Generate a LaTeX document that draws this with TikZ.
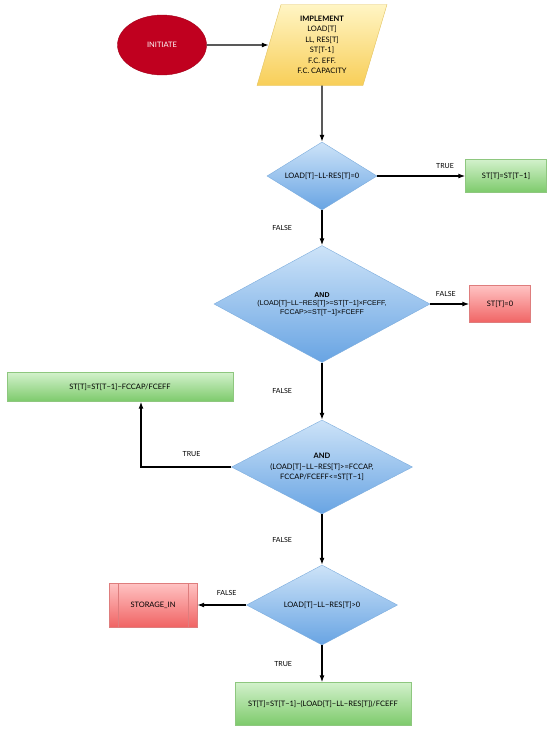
\documentclass[tikz,border=0pt]{standalone}
\usepackage{fontspec}
\setmainfont{Lato}
\newfontfamily\arialfont{Liberation Sans}
\usetikzlibrary{arrows.meta,positioning,shapes.geometric}
\definecolor{ink}{HTML}{000000}
\definecolor{startred}{HTML}{C0001F}
\definecolor{inputtop}{HTML}{FFF5C4}
\definecolor{inputbot}{HTML}{F8CE58}
\definecolor{inputline}{HTML}{E2C25E}
\definecolor{dectop}{HTML}{CDE3F8}
\definecolor{decbot}{HTML}{68A4E3}
\definecolor{decline}{HTML}{7BACDD}
\definecolor{oktop}{HTML}{D2F1CB}
\definecolor{okbot}{HTML}{7DCA6B}
\definecolor{okline}{HTML}{8EC77F}
\definecolor{badtop}{HTML}{FFC3C3}
\definecolor{badbot}{HTML}{F06464}
\definecolor{badline}{HTML}{DE7D7D}
\tikzset{
  txt/.style={font=\fontsize{7.5}{10.5}\selectfont},
  startnode/.style={ellipse, draw=startred!85!black, fill=startred, text=white,
    minimum width=89pt, minimum height=60pt, inner sep=0pt, txt},
  inputnode/.style={trapezium, trapezium left angle=76, trapezium right angle=104,
    trapezium stretches=true, draw=inputline, top color=inputtop, bottom color=inputbot,
    minimum width=130pt, minimum height=81pt, inner sep=0pt, align=center, txt},
  decision/.style={diamond, draw=decline, top color=dectop, bottom color=decbot,
    inner sep=0pt, align=center, txt},
  okbox/.style={rectangle, draw=okline, top color=oktop, bottom color=okbot,
    inner sep=0pt, align=center, txt},
  badbox/.style={rectangle, draw=badline, top color=badtop, bottom color=badbot,
    inner sep=0pt, align=center, txt},
  subbox/.style={badbox, path picture={
    \draw[badline] ([xshift=9pt]path picture bounding box.north west) -- ([xshift=9pt]path picture bounding box.south west);
    \draw[badline] ([xshift=-9pt]path picture bounding box.north east) -- ([xshift=-9pt]path picture bounding box.south east);}},
  flow/.style={-{Latex[length=7pt,width=5pt]}, draw=ink, line width=1.3pt},
  note/.style={font=\fontsize{7}{8}\selectfont, text=ink},
}
\begin{document}
\begin{tikzpicture}[x=1pt,y=-1pt]
\useasboundingbox (0,0) rectangle (550,732);

% start and input
\node[startnode] (init) at (162,45) {INITIATE};
\node[inputnode] (impl) at (322,45) {\textbf{IMPLEMENT}\\LOAD[T]\\LL, RES[T]\\ST[T-1]\\F.C. EFF.\\F.C. CAPACITY};

% decisions
\node[decision, shape aspect=1.62, minimum width=110pt, minimum height=68pt] (d1) at (322,176) {LOAD[T]−LL-RES[T]=0};
\node[decision, shape aspect=1.85, minimum width=216pt, minimum height=117pt, font=\arialfont\fontsize{7}{8.5}\selectfont] (d2) at (322,304) {\textbf{AND}\\(LOAD[T]−LL−RES[T]>=ST[T−1]×FCEFF,\\FCCAP>=ST[T−1]×FCEFF};
\node[decision, shape aspect=1.93, minimum width=181pt, minimum height=94pt] (d3) at (322,467) {\textbf{AND}\\(LOAD[T]−LL−RES[T]>=FCCAP,\\FCCAP/FCEFF<=ST[T−1]};
\node[decision, shape aspect=1.89, minimum width=151pt, minimum height=80pt] (d4) at (322,605) {LOAD[T]−LL−RES[T]>0};

% results
\node[okbox, minimum width=81pt, minimum height=33pt] (st1) at (506,176) {ST[T]=ST[T−1]};
\node[badbox, minimum width=61pt, minimum height=37pt] (st0) at (500,304) {ST[T]=0};
\node[okbox, minimum width=226pt, minimum height=29pt] (st2) at (120,387) {ST[T]=ST[T−1]−FCCAP/FCEFF};
\node[subbox, minimum width=88pt, minimum height=44pt] (stin) at (153,605) {STORAGE\_IN};
\node[okbox, minimum width=176pt, minimum height=43pt] (st3) at (323,704) {ST[T]=ST[T−1]−(LOAD[T]−LL−RES[T])/FCEFF};

% connectors
\draw[flow] (init) -- (impl);
\draw[flow] (impl.south) -- (d1.north);
\draw[flow] (d1.east) -- node[note, above=3pt, pos=0.77] {TRUE} (st1.west);
\draw[flow] (d1.south) -- node[note, left=26pt] {FALSE} (d2.north);
\draw[flow] (d2.east) -- node[note, above=3pt, pos=0.4] {FALSE} (st0.west);
\draw[flow] (d2.south) -- node[note, left=26pt] {FALSE} (d3.north);
\draw[flow] (d3.west) -| node[note, above=6pt, pos=0.22] {TRUE} ([xshift=21pt]st2.south);
\draw[flow] (d3.south) -- node[note, left=26pt] {FALSE} (d4.north);
\draw[flow] (d4.west) -- node[note, above=5pt, pos=0.4] {FALSE} (stin.east);
\draw[flow] (d4.south) -- node[note, left=26pt] {TRUE} (d4.south |- st3.north);
\end{tikzpicture}
\end{document}
